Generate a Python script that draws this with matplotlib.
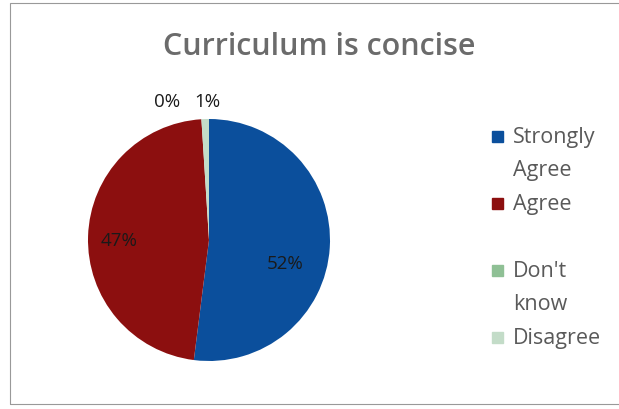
import matplotlib.pyplot as plt
from matplotlib.patches import Rectangle
import numpy as np

categories = ['Strongly\nAgree', 'Agree', "Don't\nknow", 'Disagree']
values = [52, 47, 0, 1]
colors = ['#0b4f9c', '#8c0f0f', '#8fc095', '#c3dcc8']

plt.rcParams['font.family'] = ['Open Sans', 'DejaVu Sans']

fig = plt.figure(figsize=(6.19, 4.10), dpi=100)
fig.patches.append(Rectangle((10 / 619, 5 / 410), 1.2, 401 / 410, transform=fig.transFigure,
                             fill=False, edgecolor='#999999', linewidth=0.8))

fig.text(0.515, 1 - 47 / 410, 'Curriculum is concise', ha='center', va='center',
         fontsize=22, color='#6b6b6b', fontweight='semibold')

ax = fig.add_axes([88 / 619, 48 / 410, 242 / 619, 242 / 410])
wedges, texts, autotexts = ax.pie(values, colors=colors, startangle=90, counterclock=False,
                                  autopct='%1.0f%%', pctdistance=0.72,
                                  textprops={'fontsize': 13.5, 'color': '#1a1a1a'})
ax.set_xlim(-1, 1)
ax.set_ylim(-1, 1)
ax.set_aspect('equal')

# nudge labels to where the original puts them
autotexts[0].set_position((0.63, -0.19))
autotexts[1].set_position((-0.74, 0.0))
for w, t, off in zip(wedges[2:], autotexts[2:], [-0.28, 0.02]):
    ang = np.deg2rad((w.theta1 + w.theta2) / 2)
    t.set_position((np.cos(ang) + off, 1.15))

# legend drawn by hand: each entry takes two text lines, marker on the first line
x0, y0, step = 492 / 619, 1 - 137 / 410, 67 / 410
for i, (lab, col) in enumerate(zip(categories, colors)):
    y = y0 - i * step
    fig.patches.append(Rectangle((x0, y - 5.5 / 410), 11 / 619, 11 / 410,
                                 transform=fig.transFigure, color=col))
    fig.text(513 / 619, y + 10 / 410, lab, ha='left', va='top', fontsize=15.5,
             color='#595959', linespacing=1.75)

fig.savefig('out.png', dpi=100)
